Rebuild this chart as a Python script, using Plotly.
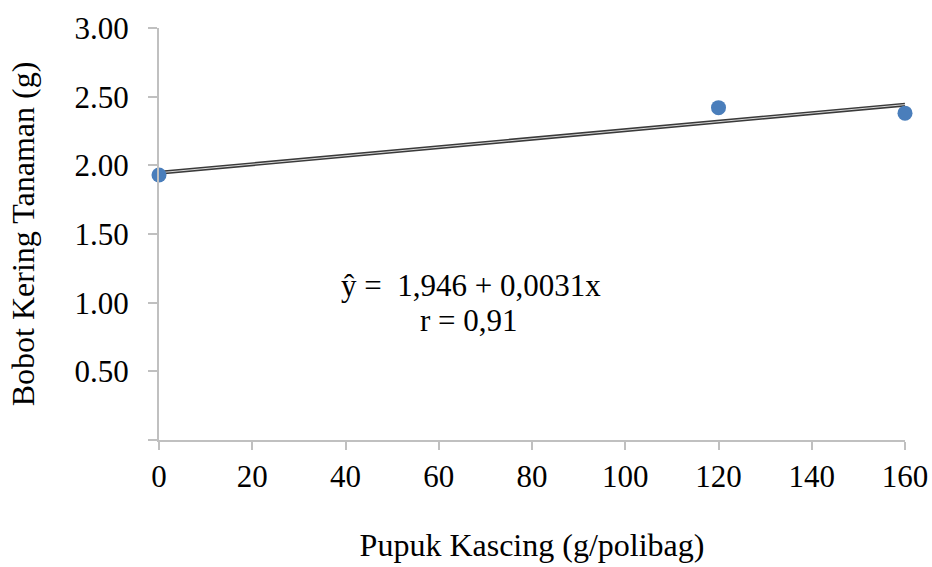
import plotly.graph_objects as go

# Data
dose = [0, 120, 160]
dry_weight = [1.93, 2.42, 2.38]
intercept = 1.946
slope = 0.0031
x_ticks = [0, 20, 40, 60, 80, 100, 120, 140, 160]
y_ticks = [0, 0.5, 1.0, 1.5, 2.0, 2.5, 3.0]
y_tick_text = ["", "0.50", "1.00", "1.50", "2.00", "2.50", "3.00"]
eq_line1 = "ŷ =\u00a0 1,946 + 0,0031x"
eq_line2 = "r = 0,91"

trend_x = [min(x_ticks), max(x_ticks)]
trend_y = [intercept + slope * v for v in trend_x]

FONT = "Liberation Serif, Times New Roman, serif"

fig = go.Figure()
fig.add_trace(go.Scatter(x=trend_x, y=trend_y, mode="lines",
                         line=dict(color="#3a3a3a", width=4), hoverinfo="skip",
                         showlegend=False, cliponaxis=False))
fig.add_trace(go.Scatter(x=trend_x, y=trend_y, mode="lines",
                         line=dict(color="#d8d8d8", width=1), hoverinfo="skip",
                         showlegend=False, cliponaxis=False))
fig.add_trace(go.Scatter(x=dose, y=dry_weight, mode="markers",
                         marker=dict(color="#4a7ebb", size=15),
                         showlegend=False, cliponaxis=False))

fig.add_annotation(x=66.9, y=1.125, xref="x", yref="y", text=eq_line1,
                   showarrow=False, font=dict(family=FONT, size=31, color="black"))
fig.add_annotation(x=66.5, y=0.867, xref="x", yref="y", text=eq_line2,
                   showarrow=False, font=dict(family=FONT, size=31, color="black"))

fig.update_layout(
    width=932, height=567,
    margin=dict(l=159, r=27, t=28, b=127),
    paper_bgcolor="white", plot_bgcolor="white",
    font=dict(family=FONT, size=31, color="black"),
    xaxis=dict(range=[0, 160], tickvals=x_ticks, showgrid=False, zeroline=False,
               showline=True, linecolor="#c0c0c0", linewidth=2,
               ticks="outside", ticklen=8, tickwidth=2, tickcolor="#c0c0c0",
               ticklabelstandoff=0, tickfont=dict(size=31),
               title=dict(text="Pupuk Kascing (g/polibag)", standoff=40,
                          font=dict(family=FONT, size=32)),
               automargin=False),
    yaxis=dict(range=[0, 3], tickvals=y_ticks, ticktext=y_tick_text,
               showgrid=False, zeroline=False,
               showline=True, linecolor="#c0c0c0", linewidth=2,
               ticks="outside", ticklen=9, tickwidth=2, tickcolor="#c0c0c0",
               ticklabelstandoff=13, tickfont=dict(size=31),
               title=dict(text="Bobot Kering Tanaman (g)", standoff=30,
                          font=dict(family=FONT, size=32)),
               automargin=False),
)

fig.write_html("out.html", config={"displayModeBar": False},
               post_script="document.body.style.margin='0';document.body.style.overflow='hidden';")
